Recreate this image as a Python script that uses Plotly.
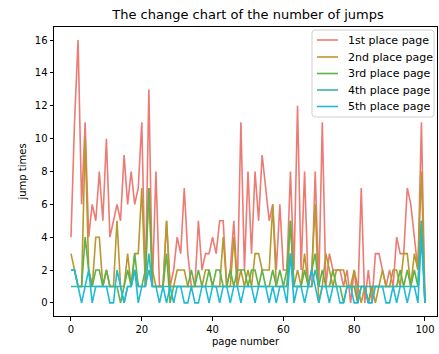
import plotly.graph_objects as go

# page index 0..100
pages = list(range(101))

first_place = [4, 11, 16, 6, 11, 4, 6, 5, 8, 5,
               10, 4, 5, 6, 5, 9, 6, 8, 6, 7,
               11, 1, 13, 1, 8, 1, 1, 5, 1, 2,
               4, 3, 7, 3, 1, 1, 5, 2, 3, 3,
               4, 3, 5, 5, 1, 2, 5, 1, 11, 2,
               8, 3, 8, 5, 9, 7, 5, 6, 2, 6,
               2, 2, 8, 2, 12, 2, 8, 1, 1, 8,
               1, 11, 1, 3, 2, 2, 2, 1, 2, 0,
               2, 0, 7, 0, 2, 0, 3, 3, 2, 1,
               2, 1, 4, 3, 3, 7, 6, 4, 2, 11,
               0]
second_place = [3, 2, 1, 1, 10, 2, 1, 4, 4, 1,
                2, 1, 1, 5, 1, 1, 3, 1, 3, 3,
                7, 1, 7, 2, 1, 1, 1, 5, 1, 1,
                2, 2, 2, 1, 1, 1, 1, 1, 2, 2,
                1, 1, 1, 4, 1, 1, 4, 1, 2, 1,
                2, 1, 3, 3, 2, 2, 2, 6, 1, 1,
                1, 1, 5, 1, 2, 1, 3, 1, 2, 6,
                0, 1, 3, 2, 1, 2, 2, 2, 1, 1,
                2, 1, 0, 1, 0, 1, 0, 1, 2, 1,
                1, 2, 2, 1, 3, 3, 1, 3, 2, 8,
                0]
third_place = [2, 2, 1, 1, 4, 2, 1, 2, 2, 1,
               2, 1, 1, 1, 0, 1, 2, 1, 3, 1,
               1, 2, 7, 1, 1, 1, 1, 3, 0, 1,
               1, 1, 1, 1, 2, 1, 2, 1, 1, 2,
               1, 2, 2, 1, 1, 2, 1, 2, 2, 2,
               1, 2, 2, 1, 2, 1, 1, 2, 1, 2,
               1, 2, 5, 1, 1, 1, 2, 1, 2, 3,
               1, 2, 1, 1, 2, 1, 1, 0, 1, 1,
               1, 0, 1, 1, 0, 1, 1, 1, 1, 1,
               1, 1, 1, 2, 1, 2, 1, 2, 1, 5,
               0]
fourth_place = [1, 1, 1, 1, 1, 1, 1, 1, 1, 1,
                1, 1, 1, 1, 1, 0, 1, 1, 2, 1,
                1, 1, 2, 1, 1, 1, 1, 1, 1, 1,
                1, 1, 1, 1, 1, 1, 1, 1, 1, 1,
                1, 1, 1, 1, 1, 1, 1, 1, 1, 1,
                1, 1, 1, 1, 1, 1, 1, 1, 1, 1,
                1, 1, 3, 1, 1, 1, 1, 1, 1, 2,
                1, 1, 1, 1, 1, 1, 1, 1, 1, 1,
                1, 1, 1, 1, 1, 1, 1, 1, 1, 1,
                1, 1, 1, 1, 1, 1, 1, 1, 1, 5,
                0]
fifth_place = [2, 2, 1, 0, 1, 2, 0, 1, 1, 1,
               1, 0, 0, 2, 1, 0, 1, 1, 2, 0,
               1, 1, 3, 1, 1, 0, 1, 0, 1, 0,
               1, 1, 0, 0, 1, 0, 0, 1, 1, 0,
               1, 1, 0, 1, 1, 0, 1, 1, 0, 1,
               1, 1, 0, 1, 1, 1, 0, 1, 0, 1,
               1, 0, 3, 0, 1, 1, 0, 1, 2, 1,
               0, 1, 1, 0, 1, 1, 0, 0, 1, 1,
               0, 0, 1, 1, 0, 0, 1, 1, 1, 0,
               0, 1, 0, 1, 1, 0, 1, 1, 0, 4,
               0]

series_names = ["1st place page", "2nd place page", "3rd place page",
                "4th place page", "5th place page"]
series_values = [first_place, second_place, third_place, fourth_place, fifth_place]
colors = ["#ec7b73", "#b8982f", "#5fb248", "#3db59c", "#1fbad6"]

x_ticks = [0, 20, 40, 60, 80, 100]
y_ticks = [0, 2, 4, 6, 8, 10, 12, 14, 16]

W, H = 439, 354
M_L, M_R, M_T, M_B = 54, 2, 27, 38
PLOT_W = W - M_L - M_R
PLOT_H = H - M_T - M_B


def px_to_paper(px, py):
    """Convert page pixel position to paper coordinates of the plot area."""
    return (px - M_L) / PLOT_W, (H - M_B - py) / PLOT_H


fig = go.Figure()
for name, vals, col in zip(series_names, series_values, colors):
    fig.add_trace(go.Scatter(x=pages, y=vals, mode="lines", name=name,
                             line=dict(color=col, width=1.6), showlegend=False))

font = "DejaVu Sans, sans-serif"

# legend box (rounded frame, matplotlib style)
bx0, by0 = px_to_paper(312, 117)
bx1, by1 = px_to_paper(434, 30)
rx = 3 / PLOT_W
ry = 3 / PLOT_H
box_path = (f"M {bx0 + rx},{by0} L {bx1 - rx},{by0} Q {bx1},{by0} {bx1},{by0 + ry} "
            f"L {bx1},{by1 - ry} Q {bx1},{by1} {bx1 - rx},{by1} "
            f"L {bx0 + rx},{by1} Q {bx0},{by1} {bx0},{by1 - ry} "
            f"L {bx0},{by0 + ry} Q {bx0},{by0} {bx0 + rx},{by0} Z")
shapes = [dict(type="path", xref="paper", yref="paper", path=box_path,
               fillcolor="rgba(255,255,255,0.8)", line=dict(color="#d0d0d0", width=1))]
annotations = []
entry_y = [40, 57, 73.5, 90, 106.5]
for name, col, ey in zip(series_names, colors, entry_y):
    lx0, ly = px_to_paper(317, ey)
    lx1, _ = px_to_paper(338, ey)
    tx, _ = px_to_paper(346, ey)
    shapes.append(dict(type="line", xref="paper", yref="paper", x0=lx0, x1=lx1,
                       y0=ly, y1=ly, line=dict(color=col, width=1.6)))
    annotations.append(dict(text=name, xref="paper", yref="paper", x=tx, y=ly,
                            xanchor="left", yanchor="middle", showarrow=False,
                            font=dict(family=font, size=11, color="black")))

axis_common = dict(showgrid=False, zeroline=False, showline=True, mirror=True,
                   linecolor="black", linewidth=1, ticks="outside", ticklen=3.5,
                   tickcolor="black", tickfont=dict(family=font, size=10, color="black"))

fig.update_layout(
    width=W, height=H,
    margin=dict(l=M_L, r=M_R, t=M_T, b=M_B),
    paper_bgcolor="white", plot_bgcolor="white",
    title=dict(text="The change chart of the number of jumps", x=0.565, xanchor="center",
               y=0.96, yanchor="middle", font=dict(family=font, size=13, color="black")),
    xaxis=dict(range=[-4.8, 103.4], tickvals=x_ticks,
               title=dict(text="page number", font=dict(family=font, size=10, color="black"), standoff=4),
               **axis_common),
    yaxis=dict(range=[-0.8, 16.8], tickvals=y_ticks,
               title=dict(text="jump times", font=dict(family=font, size=10, color="black"), standoff=6),
               **axis_common),
    shapes=shapes,
    annotations=annotations,
    showlegend=False,
)

fig.write_html("out.html")
